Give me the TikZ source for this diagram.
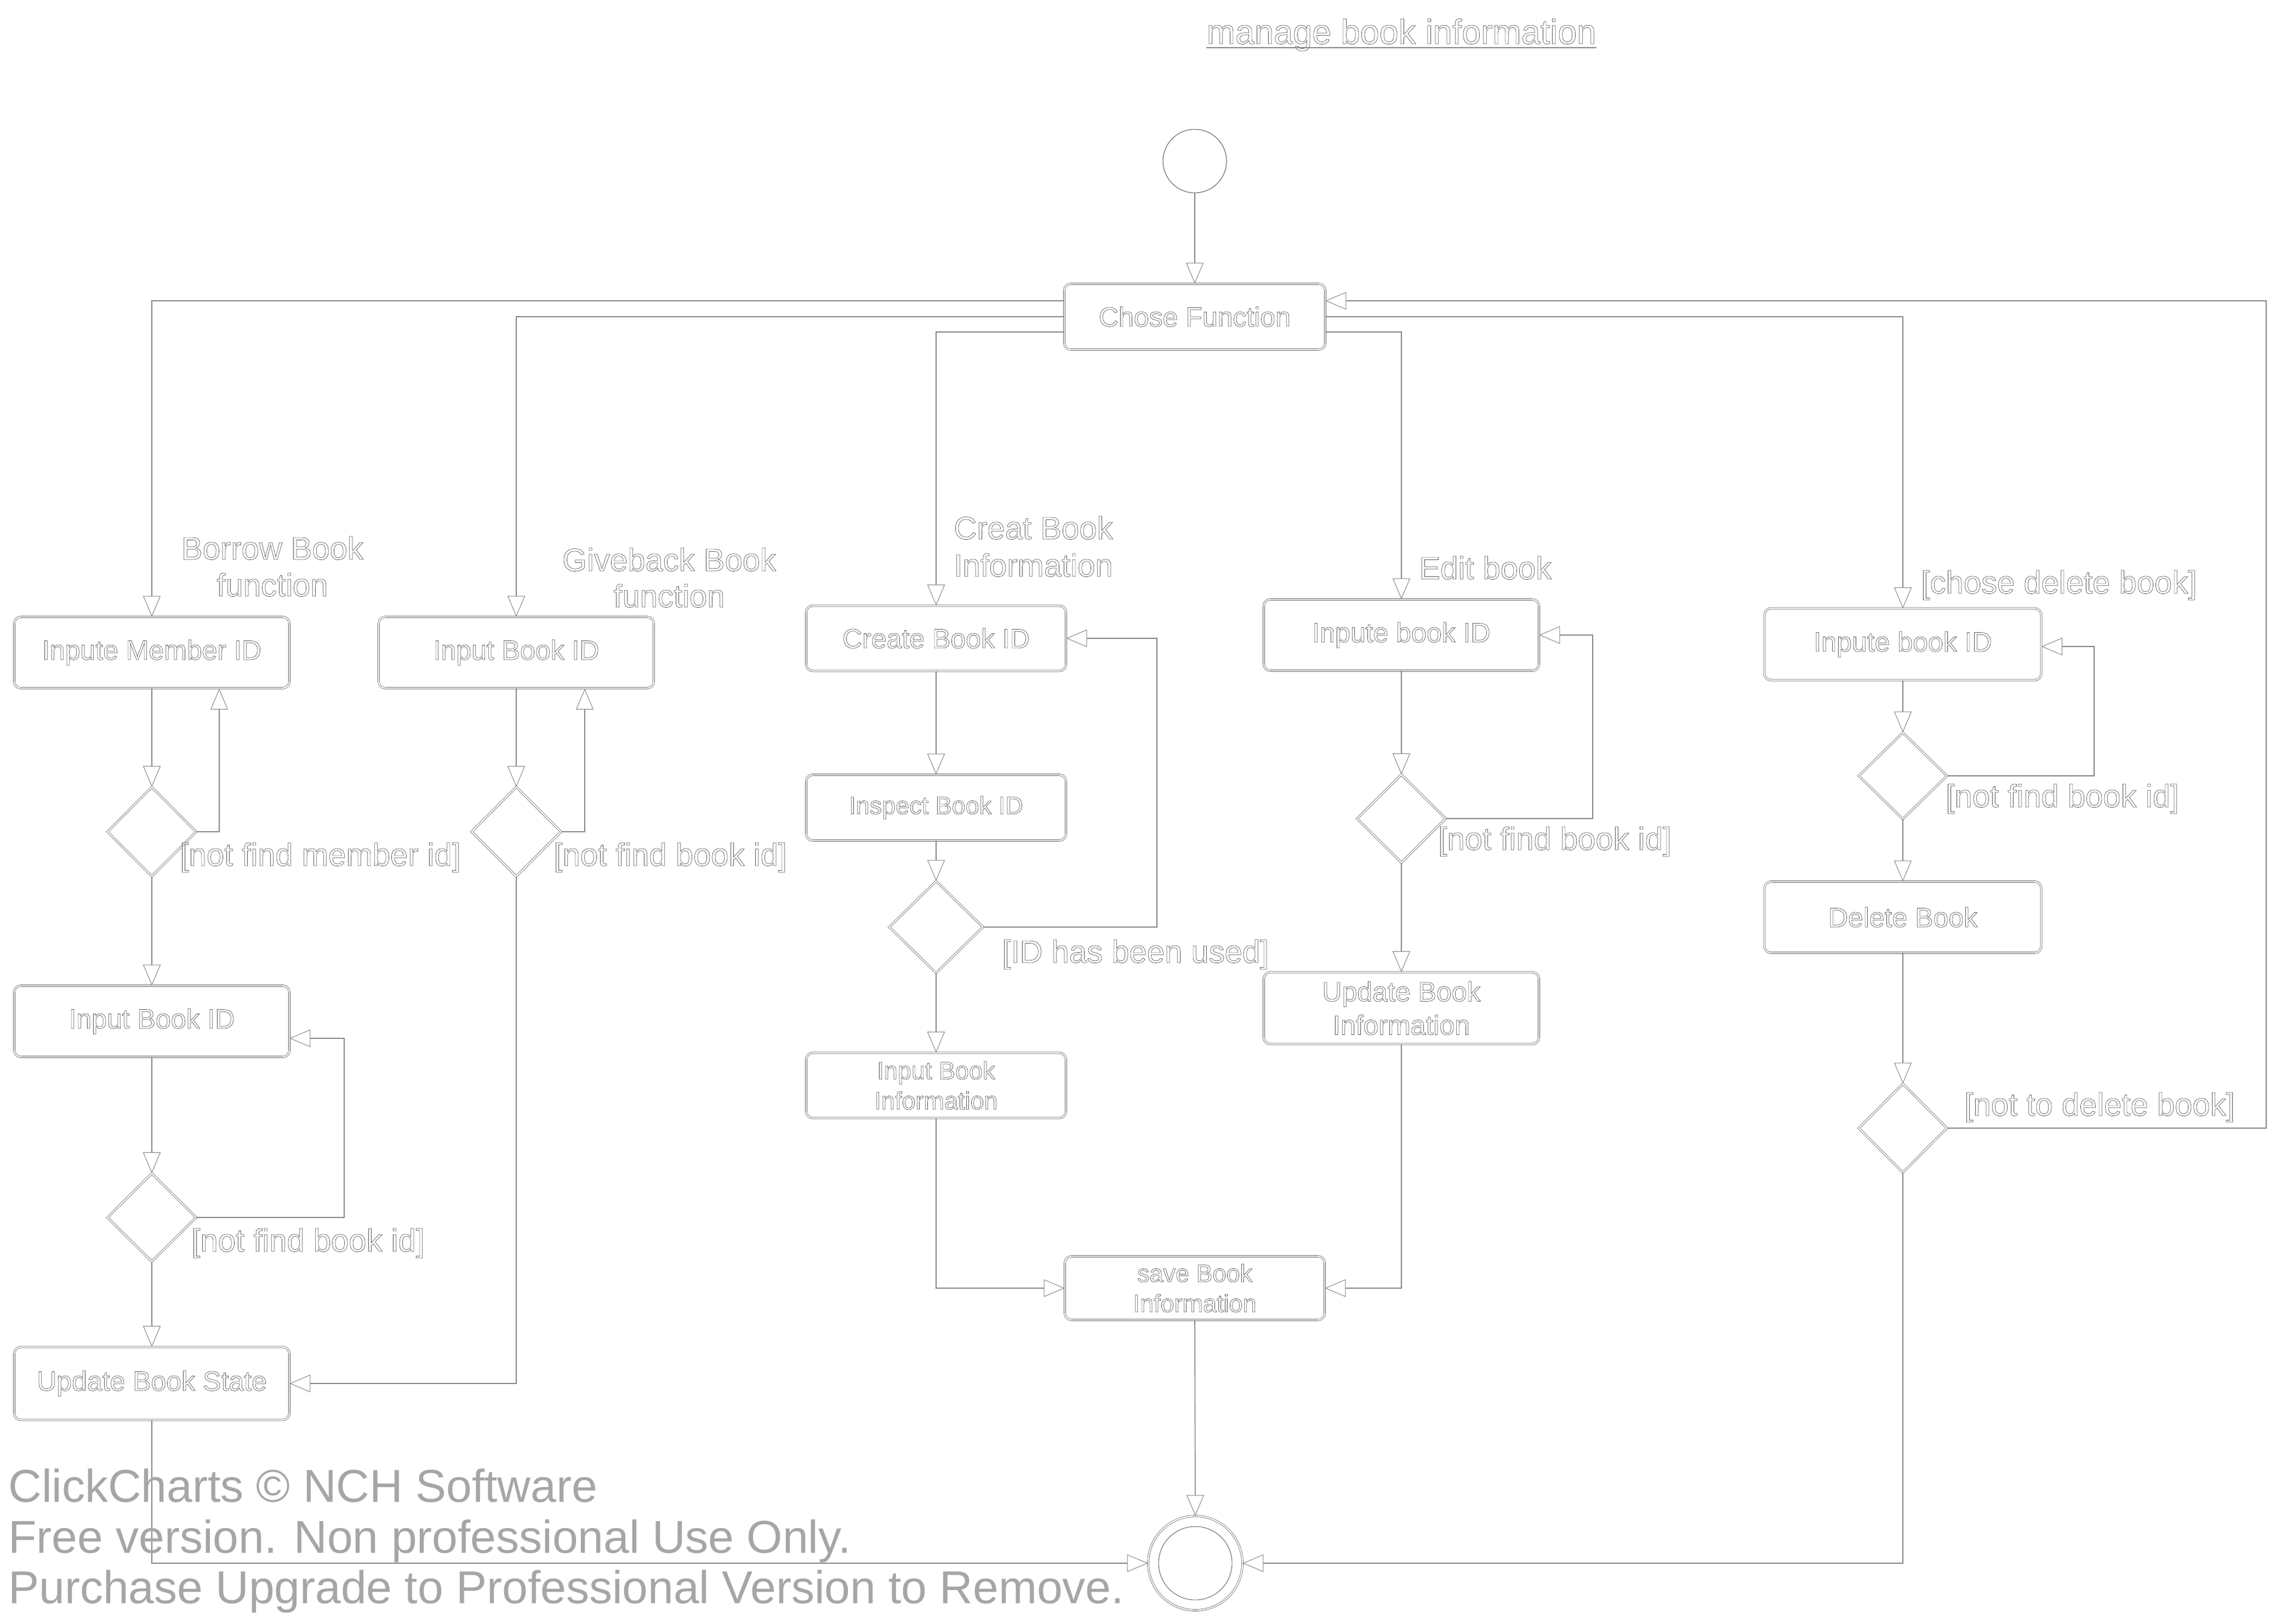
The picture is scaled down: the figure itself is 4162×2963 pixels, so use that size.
\documentclass[tikz,border=0pt]{standalone}
\usepackage{fontspec}
\setmainfont{Liberation Sans}
\usetikzlibrary{arrows.meta,shapes.geometric}
\begin{document}
\begin{tikzpicture}[x=0.5pt,y=-0.5pt,
  thinln/.style={draw=black!65, line width=0.35pt},
  sline/.style={draw=black!48, line width=0.8pt},
  conn/.style={sline, -{Triangle[open, length=19pt, width=16pt, line width=0.5pt]}},
  outl/.style={text=black!65,
    execute at begin node={\special{pdf:literal direct 1 Tr 0.35 w}},
    execute at end node={\special{pdf:literal direct 0 Tr}}},
  act/.style={rectangle, rounded corners=6pt, draw=black!65, line width=0.35pt,
    double=white, double distance=1.2pt, minimum width=251pt, minimum height=65pt,
    inner sep=0pt, outl, align=center, font=\fontsize{25}{30.5}\selectfont},
  acts/.style={act, font=\fontsize{22.5}{27.5}\selectfont},
  dec/.style={diamond, draw=black!65, line width=0.35pt, double=white,
    double distance=1.2pt, minimum width=81pt, minimum height=81pt, inner sep=0pt},
  lbl/.style={outl, inner sep=0pt, font=\fontsize{29}{33.5}\selectfont},
  wmark/.style={text=black!35, inner sep=0pt, anchor=base west, font=\fontsize{42}{48}\selectfont}
]
\useasboundingbox (0,0) rectangle (4162,2963);
\fill[white] (0,0) rectangle (4162,2963);

% title
\node[outl, inner sep=0pt, anchor=base, font=\fontsize{31.5}{36}\selectfont] (title) at (2557,80) {manage book information};
\draw[sline] ([yshift=-3.5pt]title.base west) -- ([yshift=-3.5pt]title.base east);

% initial and final
\node[circle, thinln, line width=0.5pt, minimum size=58pt, inner sep=0pt] (ini) at (2180,294) {};
\node[circle, draw=black!65, line width=0.35pt, double=white, double distance=1.2pt, minimum size=86pt, inner sep=0pt] (fin) at (2181,2853) {};
\node[circle, thinln, line width=0.45pt, minimum size=67pt, inner sep=0pt] (fin2) at (fin.center) {};

% main
\node[act, minimum width=238pt, minimum height=60pt] (cf) at (2180,578) {Chose Function};

% column 1
\node[act] (n1) at (277,1191) {Inpute Member ID};
\node[dec, minimum height=81.5pt] (d1) at (277,1518) {};
\node[act] (n2) at (277,1864) {Input Book ID};
\node[dec, minimum height=80.5pt] (d2) at (277,2222) {};
\node[act, minimum height=66.5pt] (n3) at (277,2525) {Update Book State};

% column 2
\node[act] (n4) at (942,1191) {Input Book ID};
\node[dec, minimum width=81.5pt, minimum height=81.5pt] (d3) at (942,1518) {};

% column 3
\node[act, minimum width=237pt, minimum height=59.5pt] (n5) at (1708,1165) {Create Book ID};
\node[acts, minimum width=237pt, minimum height=60pt] (n6) at (1708,1474) {Inspect Book ID};
\node[dec, minimum width=85.5pt, minimum height=84pt] (d4) at (1708,1692) {};
\node[acts, minimum width=237pt, minimum height=59.5pt] (n7) at (1708,1981) {Input Book\\Information};

% column 4
\node[act] (n8) at (2557,1159) {Inpute book ID};
\node[dec, minimum height=80.5pt] (d5) at (2557,1494) {};
\node[act, minimum height=65.5pt] (n9) at (2557,1840) {Update Book\\Information};

% save
\node[acts, minimum width=237pt, minimum height=58pt] (n10) at (2180,2351) {save Book\\Information};

% column 5
\node[act, minimum width=252.5pt, minimum height=65.5pt] (n11) at (3472,1176) {Inpute book ID};
\node[dec, minimum width=80.5pt, minimum height=79pt] (d6) at (3472,1416) {};
\node[act, minimum width=252.5pt] (n12) at (3472,1674) {Delete Book};
\node[dec, minimum width=80.5pt] (d7) at (3472,2059) {};

% helper coordinates
\coordinate (l1) at (400,1257);
\coordinate (l2) at (628,1895);
\coordinate (l3) at (1067,1257);
\coordinate (l4) at (2111,1165);
\coordinate (l5) at (2906,1159);
\coordinate (l6) at (3821,1180);
\coordinate (l7) at (4135,549);

% connectors
\draw[conn] (ini.south) -- (cf.north);
\draw[conn] ([yshift=14.5pt]cf.west) -| (n1.north);
\draw[conn] (cf.west) -| (n4.north);
\draw[conn] ([yshift=-14pt]cf.west) -| (n5.north);
\draw[conn] ([yshift=-14pt]cf.east) -| (n8.north);
\draw[conn] (cf.east) -| (n11.north);

\draw[conn] (n1.south) -- (d1.north);
\draw[conn] (d1.east) -| (l1);
\draw[conn] (d1.south) -- (n2.north);
\draw[conn] (n2.south) -- (d2.north);
\draw[conn] (d2.east) -| (l2) -- (l2 -| n2.east);
\draw[conn] (d2.south) -- (n3.north);
\draw[conn] (n3.south) |- (fin.west);

\draw[conn] (n4.south) -- (d3.north);
\draw[conn] (d3.east) -| (l3);
\draw[conn] (d3.south) |- (n3.east);

\draw[conn] (n5.south) -- (n6.north);
\draw[conn] (n6.south) -- (d4.north);
\draw[conn] (d4.east) -| (l4) -- (n5.east);
\draw[conn] (d4.south) -- (n7.north);
\draw[conn] (n7.south) |- (n10.west);

\draw[conn] (n8.south) -- (d5.north);
\draw[conn] (d5.east) -| (l5) -- (n8.east);
\draw[conn] (d5.south) -- (n9.north);
\draw[conn] (n9.south) |- (n10.east);

\draw[conn] (n10.south) -- (fin.north);

\draw[conn] (n11.south) -- (d6.north);
\draw[conn] (d6.east) -| (l6) -- (l6 -| n11.east);
\draw[conn] (d6.south) -- (n12.north);
\draw[conn] (n12.south) -- (d7.north);
\draw[conn] (d7.east) -| (l7) -- ([yshift=14.5pt]cf.east);
\draw[conn] (d7.south) |- (fin.east);

% labels
\node[lbl, anchor=base] (lb1a) at (497,1021) {Borrow Book};
\node[lbl, anchor=base] (lb1b) at (497,1088) {function};
\node[lbl, anchor=base] (lb2a) at (1221,1042) {Giveback Book};
\node[lbl, anchor=base] (lb2b) at (1221,1108) {function};
\node[lbl, anchor=base west] (lb3a) at (1740,984) {Creat Book};
\node[lbl, anchor=base west] (lb3b) at (1740,1052) {Information};
\node[lbl, anchor=base west] (lb4) at (2589,1057) {Edit book};
\node[lbl, anchor=base west] (lb5) at (3505,1083) {[chose delete book]};
\node[lbl, anchor=base west] (g1) at (328,1580) {[not find member id]};
\node[lbl, anchor=base west] (g2) at (1010,1580) {[not find book id]};
\node[lbl, anchor=base west] (g3) at (349,2284) {[not find book id]};
\node[lbl, anchor=base west] (g4) at (1828,1757) {[ID has been used]};
\node[lbl, anchor=base west] (g5) at (2624,1551) {[not find book id]};
\node[lbl, anchor=base west] (g6) at (3550,1473) {[not find book id]};
\node[lbl, anchor=base west] (g7) at (3584,2036) {[not to delete book]};

% watermark
\node[wmark] (wm1) at (15,2741) {ClickCharts © NCH Software};
\node[wmark] (wm2) at (15,2834) {Free version. Non professional Use Only.};
\node[wmark] (wm3) at (15,2926) {Purchase Upgrade to Professional Version to Remove.};
\end{tikzpicture}
\end{document}
